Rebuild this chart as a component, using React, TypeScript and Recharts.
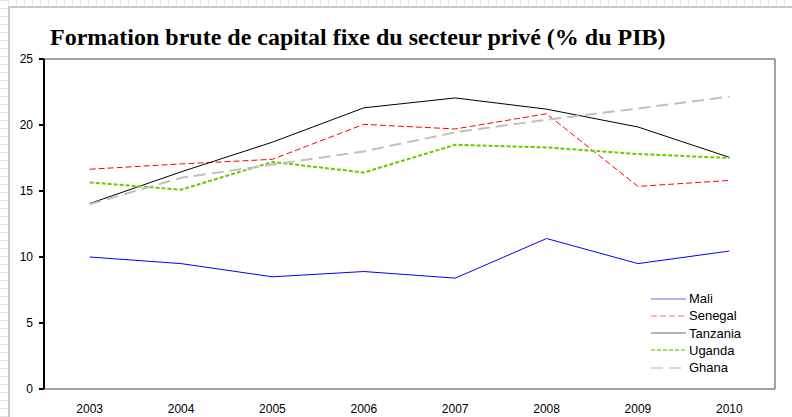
import React from 'react';
import {
  LineChart,
  Line,
  XAxis,
  YAxis,
  Legend,
  ReferenceArea,
} from 'recharts';

// Years on the x axis
const years = [2003, 2004, 2005, 2006, 2007, 2008, 2009, 2010];

// Private gross fixed capital formation, % of GDP
const mali = [10.0, 9.5, 8.5, 8.9, 8.4, 11.4, 9.5, 10.45];
const senegal = [16.65, 17.05, 17.4, 20.05, 19.7, 20.85, 15.35, 15.8];
const tanzania = [14.05, 16.45, 18.7, 21.3, 22.05, 21.2, 19.85, 17.55];
const uganda = [15.65, 15.1, 17.2, 16.4, 18.5, 18.3, 17.8, 17.5];
const ghana = [14.0, 16.0, 17.0, 18.0, 19.45, 20.4, 21.25, 22.15];

const yTicks = [0, 5, 10, 15, 20, 25];
// category boundaries where Excel puts its tick marks
const edgeTicks = [2003.5, 2004.5, 2005.5, 2006.5, 2007.5, 2008.5, 2009.5];

const series = [
  { key: 'Mali', color: '#0000FF', width: 1, dash: undefined },
  { key: 'Senegal', color: '#FF0000', width: 1, dash: '6 3' },
  { key: 'Tanzania', color: '#000000', width: 1, dash: undefined },
  { key: 'Uganda', color: '#66CC00', width: 2, dash: '4 2' },
  { key: 'Ghana', color: '#C0C0C0', width: 2, dash: '12 6' },
];

const data = years.map((year, i) => ({
  year,
  Mali: mali[i],
  Senegal: senegal[i],
  Tanzania: tanzania[i],
  Uganda: uganda[i],
  Ghana: ghana[i],
}));

const tickFont = { fontFamily: 'Liberation Sans, Arial, sans-serif', fontSize: 12, fill: '#000' };

function LegendBox() {
  return (
    <div style={{ fontFamily: 'Liberation Sans, Arial, sans-serif', fontSize: 13, color: '#000' }}>
      {series.map((s) => (
        <div key={s.key} style={{ display: 'flex', alignItems: 'center', height: 17.25 }}>
          <svg width={35} height={6} style={{ marginRight: 3 }}>
            <line
              x1={0}
              y1={3}
              x2={35}
              y2={3}
              stroke={s.color}
              strokeWidth={s.width}
              strokeDasharray={s.dash}
              strokeOpacity={0.6}
            />
          </svg>
          <span>{s.key}</span>
        </div>
      ))}
    </div>
  );
}

export default function App() {
  return (
    <div
      style={{
        position: 'absolute',
        left: 0,
        top: 0,
        width: 792,
        height: 417,
        background: '#fff',
        overflow: 'hidden',
      }}
    >
      {/* faint sheet frame behind the chart */}
      <div
        style={{
          position: 'absolute',
          left: 0,
          top: 0,
          width: 792,
          height: 6,
          background: 'repeating-linear-gradient(90deg, #e4e4e4 0 1px, #fff 1px 8px)',
        }}
      />
      <div
        style={{
          position: 'absolute',
          left: 0,
          top: 0,
          width: 8,
          height: 417,
          background: 'repeating-linear-gradient(0deg, #e4e4e4 0 1px, #fff 1px 8px)',
        }}
      />
      <div
        style={{
          position: 'absolute',
          left: 8,
          top: 6,
          width: 800,
          height: 420,
          borderLeft: '2px solid #c8c8c8',
          borderTop: '2px solid #c8c8c8',
        }}
      />
      <div
        style={{
          position: 'absolute',
          left: 50,
          top: 24,
          fontFamily: 'Liberation Serif, Times New Roman, serif',
          fontWeight: 'bold',
          fontSize: 24,
          whiteSpace: 'nowrap',
          color: '#000',
        }}
      >
        Formation brute de capital fixe du secteur privé (% du PIB)
      </div>
      <div style={{ position: 'absolute', left: 0, top: 0 }}>
        <LineChart
          width={792}
          height={417}
          data={data}
          margin={{ top: 59, right: 17, left: 4, bottom: 0 }}
        >
          <ReferenceArea
            x1={2002.5}
            x2={2010.5}
            y1={0}
            y2={25}
            stroke="#444"
            strokeWidth={1}
            fill="none"
            ifOverflow="visible"
          />
          <XAxis
            xAxisId="edges"
            dataKey="year"
            type="number"
            domain={[2002.5, 2010.5]}
            ticks={edgeTicks}
            tickFormatter={() => ''}
            height={0}
            tickSize={4}
            axisLine={{ stroke: '#000', strokeWidth: 2 }}
            tickLine={{ stroke: '#000', strokeWidth: 1 }}
            allowDataOverflow
          />
          <XAxis
            dataKey="year"
            type="number"
            domain={[2002.5, 2010.5]}
            ticks={years}
            height={28}
            axisLine={false}
            tickLine={false}
            tickMargin={9}
            tick={tickFont}
            allowDataOverflow
          />
          <YAxis
            domain={[0, 25]}
            ticks={yTicks}
            width={40}
            tickSize={5}
            tickMargin={6}
            tick={tickFont}
            axisLine={{ stroke: '#000', strokeWidth: 2 }}
            tickLine={{ stroke: '#000', strokeWidth: 2 }}
          />
          {series.map((s) => (
            <Line
              key={s.key}
              dataKey={s.key}
              name={s.key}
              stroke={s.color}
              strokeWidth={s.width}
              strokeDasharray={s.dash}
              dot={false}
              activeDot={false}
              type="linear"
              isAnimationActive={false}
            />
          ))}
          <Legend
            layout="vertical"
            align="center"
            verticalAlign="middle"
            wrapperStyle={{ left: 651, top: 290, width: 120 }}
            content={() => <LegendBox />}
          />
        </LineChart>
      </div>
    </div>
  );
}
